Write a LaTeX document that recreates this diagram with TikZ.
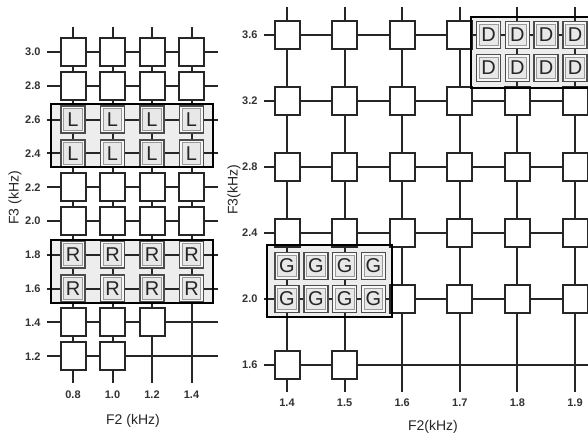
\documentclass[tikz,border=0pt]{standalone}
\usepackage{fontspec}
\setmainfont{Liberation Sans}
\usetikzlibrary{calc}
\tikzset{
	gridline/.style={black!85, line width=2pt},
	cell/.style={draw=black!85, line width=2pt, fill=white, minimum width=25pt, minimum height=28pt, inner sep=0pt},
	tagcell/.style={draw=black!70, line width=1.6pt, fill=black!3,
		minimum width=24pt, minimum height=27pt, inner sep=0pt, text=black!85, font=\fontsize{20}{20}\selectfont,
		path picture={\draw[black!40, line width=0.9pt, fill=black!9]
			($(path picture bounding box.south west)+(2.6pt,2.6pt)$) rectangle
			($(path picture bounding box.north east)-(2.6pt,2.6pt)$);}},
	region/.style={draw=black, line width=2.3pt},
	regionfill/.style={fill=black!7},
	ticklab/.style={text=black!80, font=\bfseries\fontsize{11}{11}\selectfont},
	axlab/.style={text=black!85, font=\fontsize{14}{14}\selectfont},
}
\begin{document}
\begin{tikzpicture}[x=1pt, y=-1pt]
			\useasboundingbox (0,0) rectangle (588,435);
			\clip (0,0) rectangle (588,435);
			
			% ---------- left panel: F2 0.8..1.4, F3 3.0..1.2 ----------
			\fill[regionfill] (51,104) rectangle (213,167);
			\fill[regionfill] (51,240) rectangle (213,303);
			
			% grid lines
			\foreach \i in {0,...,3} {
				\coordinate (lt-\i) at ({73+39.5*\i},27);
				\coordinate (lb-\i) at ({73+39.5*\i},383);
				\draw[gridline] (lt-\i) -- (lb-\i);
			}
			\foreach \j in {0,...,9} {
				\coordinate (ll-\j) at (47,{52+33.8*\j});
				\coordinate (lr-\j) at (218,{52+33.8*\j});
				\draw[gridline] (ll-\j) -- (lr-\j);
			}
			
			% plain cells
			\foreach \j in {0,1,4,5}
				\foreach \i in {0,...,3}
					\node[cell] (lc-\i-\j) at ({73+39.5*\i},{52+33.8*\j}) {};
			\foreach \i in {0,1,2}
				\node[cell] (lc-\i-8) at ({73+39.5*\i},{52+33.8*8}) {};
			\foreach \i in {0,1}
				\node[cell] (lc-\i-9) at ({73+39.5*\i},{52+33.8*9}) {};
			
			% L and R cells
			\foreach \j in {2,3}
				\foreach \i in {0,...,3}
					\node[tagcell] (L-\i-\j) at ({73+39.5*\i},{52+33.8*\j}) {L};
			\foreach \j in {6,7}
				\foreach \i in {0,...,3}
					\node[tagcell] (R-\i-\j) at ({73+39.5*\i},{52+33.8*\j}) {R};
			
			\draw[region] (51,104) rectangle (213,167);
			\draw[region] (51,240) rectangle (213,303);
			
			% axis labels
			\foreach \v [count=\j from 0] in {3.0,2.8,2.6,2.4,2.2,2.0,1.8,1.6,1.4,1.2}
				\node[ticklab, anchor=east] (ly-\j) at (44,{52+33.8*\j}) {\v};
			\foreach \v [count=\i from 0] in {0.8,1.0,1.2,1.4}
				\node[ticklab] (lx-\i) at ({73+39.5*\i},395) {\v};
			\node[axlab] (lxt) at (133,421) {F2 (kHz)};
			\node[axlab, rotate=90] (lyt) at (15,198) {F3 (kHz)};
			
			% ---------- right panel: F2 1.4..1.9, F3 3.6..1.6 ----------
			\fill[regionfill] (267,245) rectangle (392,317);
			\fill[regionfill] (471,17) rectangle (596,88);
			
			% grid lines
			\foreach \i in {0,...,5} {
				\coordinate (rt-\i) at ({287+57.6*\i},7);
				\coordinate (rb-\i) at ({287+57.6*\i},392);
				\draw[gridline] (rt-\i) -- (rb-\i);
			}
			\foreach \j in {0,...,5} {
				\coordinate (rl-\j) at (264,{35+66*\j});
				\coordinate (rr-\j) at (600,{35+66*\j});
				\draw[gridline] (rl-\j) -- (rr-\j);
			}
			
			% plain cells
			\foreach \i in {0,...,3}
				\node[cell] (rc-\i-0) at ({287+57.6*\i},35) {};
			\foreach \j in {1,2,3}
				\foreach \i in {0,...,5}
					\node[cell] (rc-\i-\j) at ({287+57.6*\i},{35+66*\j}) {};
			\foreach \i in {2,...,5}
				\node[cell] (rc-\i-4) at ({287+57.6*\i},299) {};
			\foreach \i in {0,1}
				\node[cell] (rc-\i-5) at ({287+57.6*\i},365) {};
			
			% G and D cells (half steps)
			\foreach \y [count=\r] in {266,299}
				\foreach \k in {0,...,3}
					\node[tagcell] (G-\k-\r) at ({287+28.8*\k},\y) {G};
			\foreach \y [count=\r] in {35,68}
				\foreach \k in {0,...,3}
					\node[tagcell] (D-\k-\r) at ({488.6+28.8*\k},\y) {D};
			
			\draw[region] (267,245) rectangle (392,317);
			\draw[region] (471,17) rectangle (596,88);
			
			% axis labels
			\foreach \v [count=\j from 0] in {3.6,3.2,2.8,2.4,2.0,1.6}
				\node[ticklab, anchor=east] (ry-\j) at (261,{35+66*\j}) {\v};
			\foreach \v [count=\i from 0] in {1.4,1.5,1.6,1.7,1.8,1.9}
				\node[ticklab] (rx-\i) at ({287+57.6*\i},403) {\v};
			\node[axlab] (rxt) at (433,427) {F2(kHz)};
			\node[axlab, rotate=90] (ryt) at (234,190) {F3(kHz)};
			
		\end{tikzpicture}
\end{document}
